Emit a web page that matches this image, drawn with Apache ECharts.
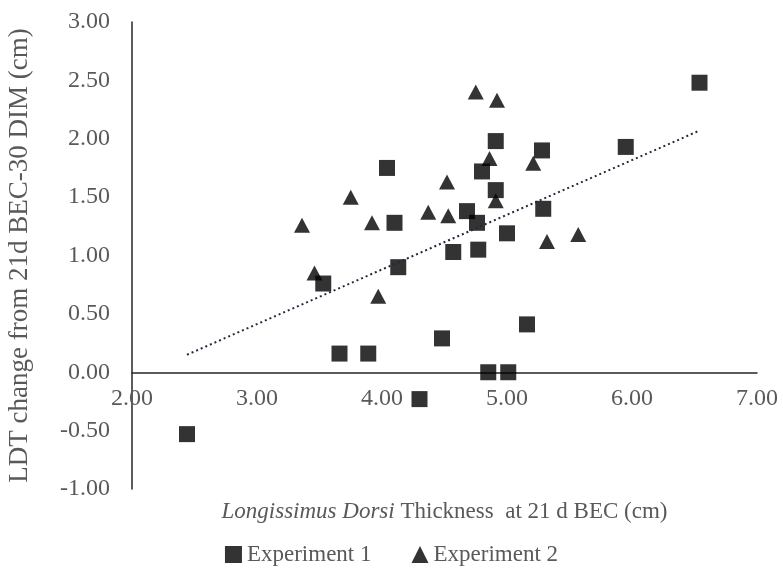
<!DOCTYPE html>
<html>
<head>
<meta charset="utf-8">
<script src="https://cdn.jsdelivr.net/npm/echarts@6/dist/echarts.min.js"></script>
<style>
  html, body { margin: 0; padding: 0; background: #fff; }
  #chart { width: 783px; height: 577px; }
</style>
</head>
<body>
<div id="chart"></div>
<script>
// Experiment 1 (squares)
const exp1X = [2.44, 3.53, 3.66, 3.89, 4.04, 4.10, 4.13, 4.30, 4.48, 4.57, 4.68, 4.76, 4.77, 4.80, 4.85, 4.91, 4.91, 5.00, 5.01, 5.16, 5.28, 5.29, 5.95, 6.54];
const exp1Y = [-0.53, 0.76, 0.16, 0.16, 1.75, 1.28, 0.90, -0.23, 0.29, 1.03, 1.38, 1.28, 1.05, 1.72, 0.00, 1.98, 1.56, 1.19, 0.00, 0.41, 1.90, 1.40, 1.93, 2.48];
// Experiment 2 (triangles)
const exp2X = [3.36, 3.46, 3.75, 3.92, 3.97, 4.37, 4.52, 4.53, 4.75, 4.86, 4.91, 4.92, 5.21, 5.32, 5.57];
const exp2Y = [1.26, 0.85, 1.50, 1.28, 0.65, 1.37, 1.63, 1.34, 2.40, 1.83, 1.47, 2.33, 1.79, 1.12, 1.18];
// linear trendline ends
const trendX = [2.44, 6.54];
const trendY = [0.15, 2.07];

const font = '"Liberation Serif", "Times New Roman", serif';
const textColor = '#595959';

const pairs = (xs, ys) => xs.map((x, i) => [x, ys[i]]);

const gridTop = 22, gridBottom = 88, chartH = 577;
// x axis sits on y = 0, which is 1/4 of the way up from -1 to 3
const zeroOffset = -(chartH - gridTop - gridBottom) / 4;

const chart = echarts.init(document.getElementById('chart'));
chart.setOption({
  animation: false,
  grid: {
    left: 132,
    right: 26,
    top: gridTop,
    bottom: gridBottom,
    outerBoundsMode: 'none'
  },
  legend: {
    bottom: 6,
    left: 'center',
    itemWidth: 17,
    itemHeight: 17,
    itemGap: 40,
    data: [
      { name: 'Experiment 1', icon: 'rect' },
      { name: 'Experiment 2', icon: 'triangle' }
    ],
    textStyle: { fontFamily: font, fontSize: 23, color: textColor }
  },
  xAxis: {
    type: 'value',
    min: 2,
    max: 7,
    interval: 1,
    offset: zeroOffset,
    name: '{i|Longissimus Dorsi} Thickness  at 21 d BEC (cm)',
    nameLocation: 'middle',
    nameGap: 128,
    nameTextStyle: {
      fontFamily: font,
      fontSize: 23,
      color: textColor,
      rich: {
        i: { fontFamily: font, fontSize: 23, fontStyle: 'italic', color: textColor }
      }
    },
    axisLine: { onZero: false, lineStyle: { color: '#262626', width: 1.5 } },
    axisTick: { show: false },
    splitLine: { show: false },
    axisLabel: {
      fontFamily: font,
      fontSize: 24,
      color: textColor,
      margin: 14,
      formatter: v => v.toFixed(2)
    }
  },
  yAxis: {
    type: 'value',
    min: -1,
    max: 3,
    interval: 0.5,
    name: 'LDT change from 21d BEC-30 DIM (cm)',
    nameLocation: 'middle',
    nameGap: 99,
    nameTextStyle: { fontFamily: font, fontSize: 27, color: textColor },
    axisLine: { show: true, lineStyle: { color: '#262626', width: 1.5 } },
    axisTick: { show: false },
    splitLine: { show: false },
    axisLabel: {
      fontFamily: font,
      fontSize: 24,
      color: textColor,
      margin: 22,
      formatter: v => v.toFixed(2)
    }
  },
  series: [
    {
      name: 'Experiment 1',
      type: 'scatter',
      symbol: 'rect',
      symbolSize: 16,
      itemStyle: { color: '#000' },
      data: pairs(exp1X, exp1Y)
    },
    {
      name: 'Experiment 2',
      type: 'scatter',
      symbol: 'triangle',
      symbolSize: [16, 15],
      itemStyle: { color: '#000' },
      data: pairs(exp2X, exp2Y)
    },
    {
      name: 'Trend',
      type: 'line',
      symbol: 'none',
      silent: true,
      lineStyle: { color: '#1f2a3c', width: 2, type: [2, 3] },
      data: pairs(trendX, trendY)
    }
  ]
});
</script>
</body>
</html>
